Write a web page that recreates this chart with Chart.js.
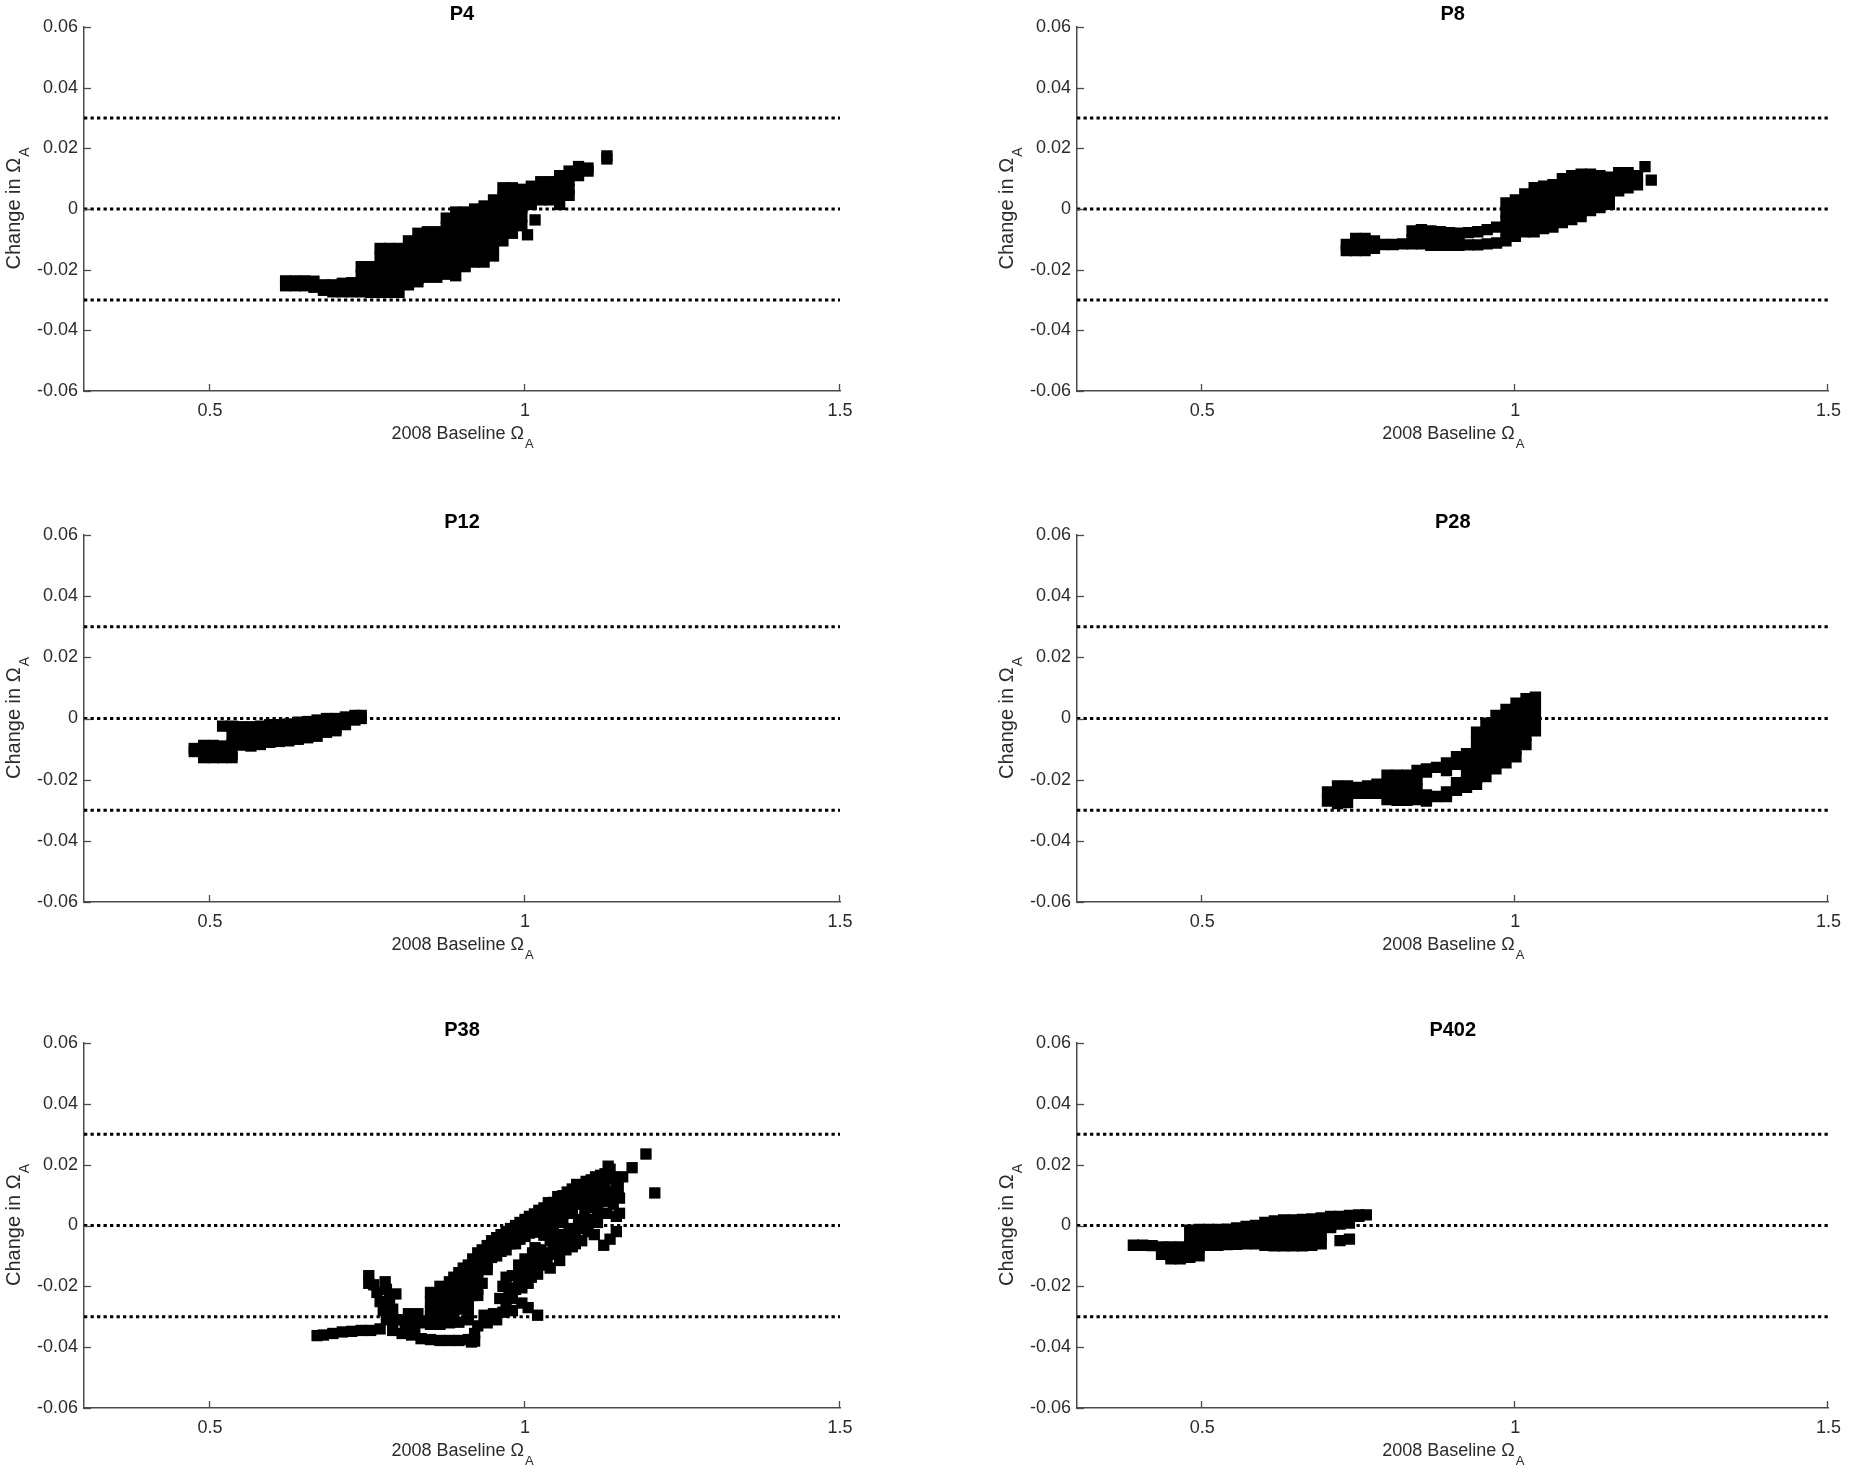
<!DOCTYPE html>
<html>
<head>
<meta charset="utf-8">
<script src="https://cdn.jsdelivr.net/npm/chart.js@4"></script>
<style>
  html, body { margin: 0; padding: 0; background: #ffffff; }
  #wrap { position: relative; width: 1850px; height: 1476px; background: #ffffff; overflow: hidden; }
  canvas { position: absolute; }
</style>
</head>
<body>
<div id="wrap"></div>
<script>
// ---------- data ----------
const panelTitles = ['P4', 'P8', 'P12', 'P28', 'P38', 'P402'];
const xTickValues = [0.5, 1, 1.5];
const yTickValues = [-0.06, -0.04, -0.02, 0, 0.02, 0.04, 0.06];
const xRange = [0.3, 1.5];
const yRange = [-0.06, 0.06];
const refLevels = [0.03, 0, -0.03];
const xLabelText = '2008 Baseline Ω';
const yLabelText = 'Change in Ω';
const labelSub = 'A';

const p4 = [
  [0.62,-0.0237],[0.62,-0.0253],[0.635,-0.0237],[0.635,-0.0253],[0.65,-0.0237],[0.65,-0.0253],
  [0.665,-0.0238],[0.665,-0.0258],[0.68,-0.025],[0.68,-0.0268],[0.695,-0.025],[0.695,-0.0273],
  [0.71,-0.0245],[0.71,-0.0273],[0.725,-0.0243],[0.725,-0.0273],
  [0.74,-0.019],[0.74,-0.022],[0.74,-0.025],[0.74,-0.0273],
  [0.755,-0.019],[0.755,-0.022],[0.755,-0.025],[0.755,-0.0275],
  [0.77,-0.013],[0.77,-0.016],[0.77,-0.019],[0.77,-0.022],[0.77,-0.025],[0.77,-0.0275],
  [0.785,-0.013],[0.785,-0.016],[0.785,-0.019],[0.785,-0.022],[0.785,-0.025],[0.785,-0.0275],
  [0.80,-0.013],[0.80,-0.016],[0.80,-0.019],[0.80,-0.022],[0.80,-0.025],[0.80,-0.0275],
  [0.815,-0.0105],[0.815,-0.0135],[0.815,-0.0165],[0.815,-0.0195],[0.815,-0.0225],[0.815,-0.025],
  [0.83,-0.008],[0.83,-0.011],[0.83,-0.014],[0.83,-0.017],[0.83,-0.020],[0.83,-0.023],[0.83,-0.024],
  [0.845,-0.0075],[0.845,-0.0105],[0.845,-0.0135],[0.845,-0.0165],[0.845,-0.0195],[0.845,-0.0225],
  [0.86,-0.0075],[0.86,-0.0105],[0.86,-0.0135],[0.86,-0.0165],[0.86,-0.0195],[0.86,-0.0225],
  [0.875,-0.003],[0.875,-0.006],[0.875,-0.009],[0.875,-0.012],[0.875,-0.015],[0.875,-0.018],[0.875,-0.0215],
  [0.89,-0.001],[0.89,-0.004],[0.89,-0.007],[0.89,-0.010],[0.89,-0.013],[0.89,-0.016],[0.89,-0.019],[0.89,-0.022],
  [0.905,-0.001],[0.905,-0.004],[0.905,-0.007],[0.905,-0.010],[0.905,-0.013],[0.905,-0.016],[0.905,-0.019],
  [0.92,0.000],[0.92,-0.003],[0.92,-0.006],[0.92,-0.009],[0.92,-0.012],[0.92,-0.015],[0.92,-0.0175],
  [0.935,0.001],[0.935,-0.002],[0.935,-0.005],[0.935,-0.008],[0.935,-0.011],[0.935,-0.014],[0.935,-0.0175],
  [0.95,0.003],[0.95,0.000],[0.95,-0.003],[0.95,-0.006],[0.95,-0.009],[0.95,-0.012],[0.95,-0.0155],
  [0.965,0.007],[0.965,0.004],[0.965,0.001],[0.965,-0.002],[0.965,-0.005],[0.965,-0.008],[0.965,-0.0105],
  [0.98,0.007],[0.98,0.004],[0.98,0.001],[0.98,-0.002],[0.98,-0.005],[0.98,-0.008],
  [0.995,0.0065],[0.995,0.0035],[0.995,0.0005],[0.995,-0.0025],[0.995,-0.0055],
  [1.004,-0.0085],[1.016,-0.0036],
  [1.01,0.0075],[1.01,0.0045],[1.01,0.0015],[1.025,0.009],[1.025,0.006],[1.025,0.003],
  [1.04,0.009],[1.04,0.006],[1.04,0.003],[1.055,0.011],[1.055,0.008],[1.055,0.005],[1.055,0.0015],
  [1.07,0.0125],[1.07,0.0095],[1.07,0.0065],[1.07,0.0045],[1.085,0.014],[1.085,0.011],
  [1.10,0.0135],[1.10,0.0125],[1.13,0.0175],[1.13,0.0165]
];

const p8 = [
  [0.73,-0.0117],[0.73,-0.0137],[0.745,-0.0097],[0.745,-0.0127],[0.745,-0.0137],
  [0.76,-0.0097],[0.76,-0.0127],[0.76,-0.0137],[0.775,-0.0105],[0.775,-0.013],
  [0.79,-0.0117],[0.805,-0.0117],[0.82,-0.0115],
  [0.835,-0.0072],[0.835,-0.0102],[0.835,-0.0115],[0.85,-0.0068],[0.85,-0.0098],[0.85,-0.0115],
  [0.865,-0.0072],[0.865,-0.0102],[0.865,-0.012],[0.88,-0.0075],[0.88,-0.0105],[0.88,-0.012],
  [0.895,-0.0078],[0.895,-0.0108],[0.895,-0.012],[0.91,-0.008],[0.91,-0.011],[0.91,-0.012],
  [0.925,-0.0078],[0.925,-0.0118],[0.94,-0.0075],[0.94,-0.0118],[0.955,-0.0068],[0.955,-0.0115],
  [0.97,-0.006],[0.97,-0.0112],
  [0.985,0.002],[0.985,-0.001],[0.985,-0.004],[0.985,-0.007],[0.985,-0.0105],
  [1.0,0.003],[1.0,0.000],[1.0,-0.003],[1.0,-0.006],[1.0,-0.009],
  [1.015,0.005],[1.015,0.002],[1.015,-0.001],[1.015,-0.004],[1.015,-0.0075],
  [1.03,0.007],[1.03,0.004],[1.03,0.001],[1.03,-0.002],[1.03,-0.005],[1.03,-0.0075],
  [1.045,0.0075],[1.045,0.0045],[1.045,0.0015],[1.045,-0.0015],[1.045,-0.0045],[1.045,-0.0065],
  [1.06,0.008],[1.06,0.005],[1.06,0.002],[1.06,-0.001],[1.06,-0.004],[1.06,-0.006],
  [1.075,0.010],[1.075,0.007],[1.075,0.004],[1.075,0.001],[1.075,-0.002],[1.075,-0.0045],
  [1.09,0.011],[1.09,0.008],[1.09,0.005],[1.09,0.002],[1.09,-0.001],[1.09,-0.0035],
  [1.105,0.0115],[1.105,0.0085],[1.105,0.0055],[1.105,0.0025],[1.105,-0.0005],[1.105,-0.0025],
  [1.12,0.0115],[1.12,0.0085],[1.12,0.0055],[1.12,0.0025],[1.12,-0.0005],
  [1.135,0.011],[1.135,0.008],[1.135,0.005],[1.135,0.002],[1.135,0.0005],
  [1.15,0.0105],[1.15,0.0075],[1.15,0.0045],[1.15,0.0015],
  [1.165,0.012],[1.165,0.009],[1.165,0.006],[1.18,0.012],[1.18,0.009],[1.18,0.007],
  [1.195,0.011],[1.195,0.008],[1.207,0.014],[1.217,0.0095]
];

const p12 = [
  [0.475,-0.0098],[0.475,-0.0108],[0.49,-0.0088],[0.49,-0.0118],[0.49,-0.0128],
  [0.505,-0.0088],[0.505,-0.0118],[0.505,-0.0128],
  [0.52,-0.0025],[0.52,-0.009],[0.52,-0.012],[0.52,-0.0128],
  [0.535,-0.0025],[0.535,-0.0055],[0.535,-0.0085],[0.535,-0.0115],[0.535,-0.0128],
  [0.55,-0.0027],[0.55,-0.0057],[0.55,-0.0087],[0.565,-0.0027],[0.565,-0.0057],[0.565,-0.009],
  [0.58,-0.0025],[0.58,-0.0055],[0.58,-0.0085],[0.595,-0.002],[0.595,-0.005],[0.595,-0.0078],
  [0.61,-0.002],[0.61,-0.005],[0.61,-0.0075],[0.625,-0.0018],[0.625,-0.0048],[0.625,-0.0073],
  [0.64,-0.0012],[0.64,-0.0042],[0.64,-0.0068],[0.655,-0.001],[0.655,-0.004],[0.655,-0.0063],
  [0.67,-0.0005],[0.67,-0.0035],[0.67,-0.0058],[0.685,0.0],[0.685,-0.003],[0.685,-0.0045],
  [0.70,0.0],[0.70,-0.003],[0.70,-0.004],[0.715,0.0005],[0.715,-0.002],
  [0.73,0.001],[0.73,-0.0005],[0.74,0.001],[0.74,0.0]
];

const p28 = [
  [0.70,-0.024],[0.70,-0.027],[0.716,-0.022],[0.716,-0.025],[0.716,-0.0278],
  [0.732,-0.022],[0.732,-0.025],[0.732,-0.0275],[0.748,-0.0225],[0.748,-0.0245],
  [0.764,-0.022],[0.764,-0.0245],[0.779,-0.0215],[0.779,-0.0245],
  [0.795,-0.0185],[0.795,-0.0215],[0.795,-0.0245],[0.795,-0.0265],
  [0.811,-0.0185],[0.811,-0.0215],[0.811,-0.0245],[0.811,-0.0268],
  [0.827,-0.0185],[0.827,-0.0215],[0.827,-0.0245],[0.827,-0.0268],
  [0.843,-0.017],[0.843,-0.020],[0.843,-0.023],[0.843,-0.0265],
  [0.858,-0.0165],[0.858,-0.0175],[0.858,-0.025],[0.858,-0.027],
  [0.874,-0.016],[0.874,-0.0255],[0.890,-0.0145],[0.890,-0.017],[0.890,-0.024],[0.890,-0.0255],
  [0.906,-0.0125],[0.906,-0.015],[0.906,-0.021],[0.906,-0.0235],
  [0.922,-0.0115],[0.922,-0.0145],[0.922,-0.0175],[0.922,-0.0205],[0.922,-0.0225],
  [0.938,-0.0045],[0.938,-0.0075],[0.938,-0.0105],[0.938,-0.0135],[0.938,-0.0165],[0.938,-0.0195],[0.938,-0.0215],
  [0.953,-0.0015],[0.953,-0.0045],[0.953,-0.0075],[0.953,-0.0105],[0.953,-0.0135],[0.953,-0.0165],[0.953,-0.019],
  [0.969,0.001],[0.969,-0.002],[0.969,-0.005],[0.969,-0.008],[0.969,-0.011],[0.969,-0.014],[0.969,-0.0165],
  [0.985,0.003],[0.985,0.000],[0.985,-0.003],[0.985,-0.006],[0.985,-0.009],[0.985,-0.012],[0.985,-0.0145],
  [1.001,0.005],[1.001,0.002],[1.001,-0.001],[1.001,-0.004],[1.001,-0.007],[1.001,-0.010],[1.001,-0.0125],
  [1.017,0.0065],[1.017,0.0035],[1.017,0.0005],[1.017,-0.0025],[1.017,-0.0055],[1.017,-0.0085],
  [1.032,0.007],[1.032,0.004],[1.032,0.001],[1.032,-0.002],[1.032,-0.004]
];

const p38 = [
  [0.67,-0.0362],[0.68,-0.036],[0.695,-0.0355],[0.71,-0.035],[0.725,-0.0348],[0.74,-0.0345],[0.755,-0.0345],[0.77,-0.034],
  [0.752,-0.0165],[0.752,-0.019],[0.778,-0.0185],[0.78,-0.021],[0.765,-0.022],[0.77,-0.025],[0.785,-0.0245],
  [0.79,-0.0275],[0.775,-0.028],[0.78,-0.031],[0.795,-0.031],[0.76,-0.0195],[0.795,-0.0225],
  [0.79,-0.0345],[0.805,-0.0355],[0.82,-0.036],[0.835,-0.0372],[0.85,-0.0375],[0.865,-0.0378],[0.88,-0.0378],
  [0.895,-0.0378],[0.91,-0.0375],[0.92,-0.038],[0.915,-0.0383],[0.92,-0.0355],
  [0.805,-0.031],[0.82,-0.032],[0.835,-0.032],[0.85,-0.0325],[0.865,-0.0325],[0.88,-0.032],[0.895,-0.0318],[0.91,-0.031],
  [0.81,-0.0335],[0.825,-0.0345],[0.815,-0.029],[0.83,-0.029],
  [0.925,-0.033],[0.935,-0.0295],[0.95,-0.029],[0.965,-0.0285],[0.98,-0.028],[0.995,-0.0255],[1.005,-0.027],[1.02,-0.0295],
  [0.94,-0.032],[0.955,-0.031],
  [0.85,-0.022],[0.85,-0.025],[0.85,-0.028],[0.85,-0.030],
  [0.865,-0.020],[0.865,-0.023],[0.865,-0.026],[0.865,-0.029],
  [0.88,-0.0185],[0.88,-0.0215],[0.88,-0.0245],[0.88,-0.0275],[0.88,-0.030],
  [0.895,-0.0155],[0.895,-0.0185],[0.895,-0.0215],[0.895,-0.0245],[0.895,-0.0275],
  [0.91,-0.013],[0.91,-0.016],[0.91,-0.019],[0.91,-0.022],[0.91,-0.025],[0.91,-0.0275],
  [0.925,-0.009],[0.925,-0.012],[0.925,-0.015],[0.925,-0.018],[0.925,-0.021],[0.925,-0.023],
  [0.94,-0.0066],[0.94,-0.0096],[0.94,-0.0126],[0.94,-0.0145],
  [0.955,-0.004],[0.955,-0.007],[0.955,-0.010],[0.97,-0.002],[0.97,-0.005],[0.97,-0.008],
  [0.985,0.000],[0.985,-0.003],[0.985,-0.006],[1.0,0.002],[1.0,-0.001],[1.0,-0.0036],
  [1.015,0.0038],[1.015,0.0008],[1.015,-0.0022],[1.03,0.0058],[1.03,0.0028],[1.03,-0.0002],[1.03,-0.0032],
  [1.045,0.0076],[1.045,0.0046],[1.045,0.0016],[1.045,-0.0014],[1.045,-0.004],
  [1.06,0.0098],[1.06,0.0068],[1.06,0.0038],[1.06,0.001],[1.075,0.012],[1.075,0.009],[1.075,0.006],[1.075,0.004],
  [1.09,0.013],[1.09,0.010],[1.09,0.007],[1.105,0.015],[1.105,0.012],[1.105,0.009],[1.105,0.006],
  [1.12,0.0165],[1.12,0.0135],[1.12,0.0105],[1.135,0.0185],[1.135,0.0155],
  [0.872,-0.0215],[0.872,-0.0265],[0.887,-0.017],[0.887,-0.023],[0.887,-0.029],[0.902,-0.014],[0.902,-0.020],
  [0.902,-0.026],[0.917,-0.011],[0.917,-0.017],[0.917,-0.023],[0.932,-0.008],[0.932,-0.013],[0.932,-0.019],
  [0.947,-0.005],[0.947,-0.0105],[0.962,-0.003],[0.962,-0.0085],[0.977,-0.001],[0.977,-0.006],[0.992,0.001],
  [0.992,-0.0045],[1.007,0.003],[1.007,-0.0025],[1.022,0.005],[1.022,-0.001],[1.037,0.0075],[1.037,0.0015],
  [1.052,0.0095],[1.052,0.003],[1.067,0.011],[1.067,0.006],[1.082,0.0135],[1.082,0.008],[1.097,0.0145],
  [1.097,0.0095],[1.112,0.016],[1.112,0.0115],[1.127,0.017],[1.127,0.013],
  [0.98,-0.0165],[0.975,-0.0205],[0.98,-0.024],[0.995,-0.015],[1.005,-0.019],[1.01,-0.0125],[1.02,-0.016],
  [1.016,-0.0073],[1.024,-0.011],[1.03,-0.0105],[1.04,-0.014],[1.045,-0.008],[1.055,-0.0115],[1.06,-0.0055],
  [1.075,-0.007],[1.08,-0.003],[1.09,-0.005],[1.095,0.000],[1.105,0.002],[1.11,-0.003],[1.12,0.004],
  [1.12,0.008],[1.125,-0.0065],[1.13,0.011],[1.14,0.007],[1.145,0.003],
  [0.97,-0.026],[0.975,-0.023],[0.985,-0.021],[0.99,-0.018],[0.995,-0.0205],[1.0,-0.016],[1.005,-0.0135],
  [1.01,-0.017],[1.015,-0.0145],[1.025,-0.013],[1.035,-0.012],[1.035,-0.009],[1.05,-0.0095],[1.05,-0.006],
  [1.065,-0.008],[1.065,-0.004],[1.08,-0.006],[1.085,-0.001],[1.1,-0.002],[1.1,0.001],[1.115,0.001],
  [1.115,0.005],[1.13,0.004],[1.13,0.008],[1.14,0.010],[1.145,0.013],[1.15,0.009],
  [0.96,-0.024],[0.965,-0.02],[0.97,-0.017],[0.99,-0.013],[1.0,-0.011],[1.012,-0.009],[1.025,-0.008],
  [1.04,-0.005],[1.055,-0.003],[1.07,-0.001],[1.085,0.002],[1.095,0.004],[1.105,0.006],[1.11,0.009],
  [1.12,0.012],[1.14,0.016],[1.15,0.004],[1.145,-0.002],[1.135,-0.0045],
  [1.132,0.0195],[1.148,0.0125],[1.155,0.016],[1.17,0.019],[1.192,0.0235],[1.206,0.0107]
];

const p402 = [
  [0.39,-0.0065],[0.405,-0.0065],[0.42,-0.0066],[0.435,-0.007],[0.435,-0.0095],
  [0.45,-0.007],[0.45,-0.0098],[0.45,-0.011],[0.465,-0.007],[0.465,-0.0098],[0.465,-0.011],
  [0.48,-0.0015],[0.48,-0.0045],[0.48,-0.0075],[0.48,-0.0105],
  [0.495,-0.0013],[0.495,-0.0043],[0.495,-0.0073],[0.495,-0.010],
  [0.51,-0.0013],[0.51,-0.0043],[0.51,-0.0065],[0.525,-0.0013],[0.525,-0.0043],[0.525,-0.0065],
  [0.54,-0.0012],[0.54,-0.0042],[0.54,-0.0063],[0.555,-0.0008],[0.555,-0.0038],[0.555,-0.0062],
  [0.57,-0.0003],[0.57,-0.0033],[0.57,-0.006],[0.585,0.0],[0.585,-0.003],[0.585,-0.006],
  [0.60,0.001],[0.60,-0.002],[0.60,-0.005],[0.60,-0.0065],
  [0.615,0.0015],[0.615,-0.0015],[0.615,-0.0045],[0.615,-0.0067],
  [0.63,0.0018],[0.63,-0.0012],[0.63,-0.0042],[0.63,-0.0067],
  [0.645,0.0018],[0.645,-0.0012],[0.645,-0.0042],[0.645,-0.0067],
  [0.66,0.002],[0.66,-0.001],[0.66,-0.004],[0.66,-0.0067],
  [0.675,0.0022],[0.675,-0.0008],[0.675,-0.0038],[0.675,-0.0065],
  [0.69,0.0025],[0.69,-0.0005],[0.69,-0.0035],[0.69,-0.006],
  [0.705,0.003],[0.705,0.0],[0.705,-0.0007],[0.72,0.003],[0.72,0.0005],[0.72,-0.005],
  [0.735,0.0033],[0.735,0.0008],[0.735,-0.0045],[0.75,0.0035],[0.75,0.003],[0.762,0.0035]
];

const panelData = [p4, p8, p12, p28, p38, p402];

// ---------- layout (pixels) ----------
const colPlotLeft = [84, 1077];
const colPlotRight = [840, 1835];
const rowPlotTop = [27, 535, 1043];
const rowPlotBottom = [391, 902, 1408];
const yAxisBand = 84;
const xAxisBand = 62;
const titleBand = 27;

const axisColor = '#4a4a4a';
const textColor = '#2b2b2b';
const fontFamily = '"Liberation Sans", Arial, Helvetica, sans-serif';

const decor = {
  id: 'decor',
  afterDraw(chart) {
    const { ctx, chartArea: a, scales } = chart;
    const xs = scales.x, ys = scales.y;
    ctx.save();
    ctx.strokeStyle = axisColor;
    ctx.lineWidth = 1.3;
    ys.ticks.forEach(t => {
      const py = Math.round(ys.getPixelForValue(t.value)) + 0.5;
      ctx.beginPath(); ctx.moveTo(a.left, py); ctx.lineTo(a.left + 7, py); ctx.stroke();
    });
    xs.ticks.forEach(t => {
      const px = Math.round(xs.getPixelForValue(t.value)) - 0.5;
      ctx.beginPath(); ctx.moveTo(px, a.bottom); ctx.lineTo(px, a.bottom - 7); ctx.stroke();
    });
    // title
    ctx.fillStyle = '#000';
    ctx.font = 'bold 20px ' + fontFamily;
    ctx.textAlign = 'center';
    ctx.textBaseline = 'middle';
    ctx.fillText(chart.options.plugins.decor.title, (a.left + a.right) / 2, a.top - 13);
    // x label with subscript
    ctx.fillStyle = textColor;
    const mainFont = '18px ' + fontFamily, subFont = '13px ' + fontFamily;
    ctx.font = mainFont;
    const wm = ctx.measureText(xLabelText).width;
    ctx.font = subFont;
    const ws = ctx.measureText(labelSub).width;
    const sx = (a.left + a.right) / 2 - (wm + ws) / 2;
    ctx.textAlign = 'left';
    ctx.font = mainFont;
    ctx.fillText(xLabelText, sx, a.bottom + 43);
    ctx.font = subFont;
    ctx.fillText(labelSub, sx + wm + 1, a.bottom + 53);
    // y label rotated with subscript
    const yMain = '20px ' + fontFamily, ySubF = '14px ' + fontFamily;
    ctx.translate(a.left - 70, (a.top + a.bottom) / 2);
    ctx.rotate(-Math.PI / 2);
    ctx.font = yMain;
    const wm2 = ctx.measureText(yLabelText).width;
    ctx.font = ySubF;
    const ws2 = ctx.measureText(labelSub).width;
    const sx2 = -(wm2 + ws2) / 2;
    ctx.font = yMain;
    ctx.fillText(yLabelText, sx2, 0);
    ctx.font = ySubF;
    ctx.fillText(labelSub, sx2 + wm2 + 1, 11);
    ctx.restore();
  }
};

const wrap = document.getElementById('wrap');

panelData.forEach((pts, i) => {
  const col = i % 2, row = Math.floor(i / 2);
  const left = colPlotLeft[col] - yAxisBand;
  const top = rowPlotTop[row] - titleBand;
  const width = (col === 0 ? 870 : 1850) - left;
  const height = rowPlotBottom[row] + xAxisBand - top;
  const padRight = left + width - colPlotRight[col];

  const cv = document.createElement('canvas');
  cv.width = width; cv.height = height;
  cv.style.left = left + 'px'; cv.style.top = top + 'px';
  cv.style.width = width + 'px'; cv.style.height = height + 'px';
  wrap.appendChild(cv);

  const refSets = refLevels.map(lv => ({
    type: 'scatter',
    data: [{ x: xRange[0], y: lv }, { x: xRange[1], y: lv }],
    showLine: true,
    borderColor: '#000',
    borderWidth: 3,
    borderDash: [3.3, 3.2],
    borderCapStyle: 'butt',
    pointRadius: 0,
    order: 2
  }));

  new Chart(cv, {
    type: 'scatter',
    data: {
      datasets: [
        {
          data: pts.map(([x, y]) => ({ x, y })),
          pointStyle: 'rect',
          pointRadius: 8,
          pointBorderWidth: 0,
          backgroundColor: '#000',
          borderColor: '#000',
          order: 1
        },
        ...refSets
      ]
    },
    options: {
      responsive: false,
      animation: false,
      events: [],
      devicePixelRatio: 1,
      layout: { padding: { left: 0, right: padRight, top: titleBand, bottom: 0 } },
      plugins: {
        legend: { display: false },
        tooltip: { enabled: false },
        decor: { title: panelTitles[i] }
      },
      scales: {
        x: {
          type: 'linear',
          min: xRange[0], max: xRange[1],
          afterBuildTicks: s => { s.ticks = xTickValues.map(v => ({ value: v })); },
          afterFit: s => { s.height = xAxisBand; },
          grid: { display: true, drawOnChartArea: false, drawTicks: false },
          border: { display: true, color: axisColor, width: 1.5 },
          ticks: {
            autoSkip: false, maxRotation: 0, padding: 9,
            color: textColor, font: { family: fontFamily, size: 18 },
            callback: v => String(v)
          }
        },
        y: {
          type: 'linear',
          min: yRange[0], max: yRange[1],
          afterBuildTicks: s => { s.ticks = yTickValues.map(v => ({ value: v })); },
          afterFit: s => { s.width = yAxisBand; },
          grid: { display: true, drawOnChartArea: false, drawTicks: false },
          border: { display: true, color: axisColor, width: 1.5 },
          ticks: {
            autoSkip: false, padding: 6,
            color: textColor, font: { family: fontFamily, size: 18 },
            callback: v => (Math.abs(v) < 1e-9 ? '0' : v.toFixed(2))
          }
        }
      }
    },
    plugins: [decor]
  });
});
</script>
</body>
</html>
